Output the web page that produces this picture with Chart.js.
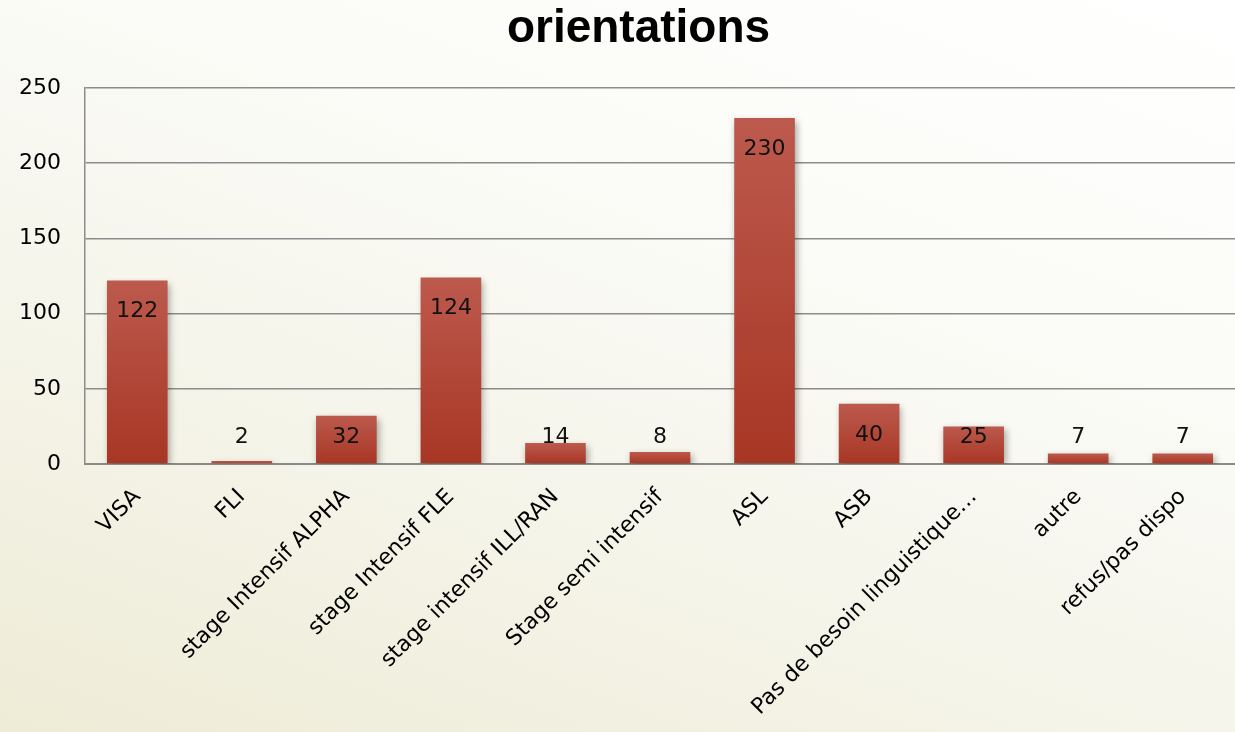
<!DOCTYPE html>
<html>
<head>
<meta charset="utf-8">
<script src="https://cdn.jsdelivr.net/npm/chart.js@4/dist/chart.umd.min.js"></script>
<style>
html,body{margin:0;padding:0;width:1235px;height:732px;overflow:hidden;}
body{background:linear-gradient(20deg,#eeebd6 0%,#f5f4e9 35%,#fbfbf7 65%,#ffffff 100%);}
#wrap{position:absolute;left:0;top:0;width:1235px;height:732px;}
</style>
</head>
<body>
<div id="wrap"><canvas id="c" width="1235" height="732"></canvas></div>
<script>
const categories = ["VISA","FLI","stage Intensif ALPHA","stage Intensif FLE","stage intensif ILL/RAN","Stage semi intensif","ASL","ASB","Pas de besoin linguistique…","autre","refus/pas dispo"];
const values = [122,2,32,124,14,8,230,40,25,7,7];
const yTicks = [0,50,100,150,200,250];
const chartTitle = "orientations";

const FONT = "'DejaVu Sans', sans-serif";

const shadowPlugin = {
  id:'shadow',
  beforeDatasetsDraw(chart){
    const ctx=chart.ctx; ctx.save();
    ctx.shadowColor='rgba(0,0,0,0.35)'; ctx.shadowBlur=7; ctx.shadowOffsetX=2; ctx.shadowOffsetY=3;
  },
  afterDatasetsDraw(chart){ chart.ctx.restore(); }
};

const labelPlugin = {
  id:'valLabels',
  afterDatasetsDraw(chart){
    const ctx=chart.ctx, meta=chart.getDatasetMeta(0), ys=chart.scales.y;
    const base=ys.getPixelForValue(0);
    ctx.save();
    ctx.font="22px "+FONT; ctx.fillStyle="#111"; ctx.textAlign='center'; ctx.textBaseline='middle';
    meta.data.forEach((bar,i)=>{
      const top=ys.getPixelForValue(values[i]);
      const y=Math.min(top+31, base-27);
      ctx.fillText(String(values[i]), bar.x, y);
    });
    ctx.restore();
  }
};

const titlePlugin = {
  id:'customTitle',
  afterDraw(chart){
    const ctx=chart.ctx; ctx.save();
    ctx.font="bold 46px 'Liberation Sans', Arial, sans-serif";
    ctx.fillStyle='#000'; ctx.textAlign='center'; ctx.textBaseline='middle';
    ctx.fillText(chartTitle, chart.width/2+21, 29);
    ctx.restore();
  }
};

new Chart(document.getElementById('c'),{
  type:'bar',
  data:{labels:categories,datasets:[{
    data:values,
    backgroundColor(context){
      const chart=context.chart;
      if(!chart.chartArea || !chart.scales.y) return '#b04536';
      const ys=chart.scales.y;
      const v=context.raw||0;
      const t=ys.getPixelForValue(v), b=ys.getPixelForValue(0);
      if(!isFinite(t)||!isFinite(b)||b-t<1) return '#b9574b';
      const g=chart.ctx.createLinearGradient(0,t,0,b);
      g.addColorStop(0,'#bc5a4d'); g.addColorStop(1,'#a83624');
      return g;
    },
    borderWidth:0,
    barPercentage:0.58,
    categoryPercentage:1.0
  }]},
  options:{
    responsive:false,animation:false,
    layout:{padding:{left:0,right:0,top:88,bottom:0}},
    plugins:{
      legend:{display:false},tooltip:{enabled:false},title:{display:false}
    },
    scales:{
      x:{
        grid:{display:false,drawTicks:false},
        border:{display:true,color:'#8a8a8a',width:2},
        ticks:{color:'#000',font:{family:FONT,size:22},minRotation:45,maxRotation:45,padding:20,autoSkip:false},
        afterFit(s){s.height=268;}
      },
      y:{
        min:0,max:250,
        afterBuildTicks(s){s.ticks=yTicks.map(v=>({value:v}));},
        grid:{color:'#8c8c8c',lineWidth:1.5,drawTicks:false},
        border:{display:true,color:'#8c8c8c',width:1.5},
        ticks:{color:'#000',font:{family:FONT,size:22},padding:24},
        afterFit(s){s.width=85;}
      }
    }
  },
  plugins:[shadowPlugin,labelPlugin,titlePlugin]
});
</script>
</body>
</html>
